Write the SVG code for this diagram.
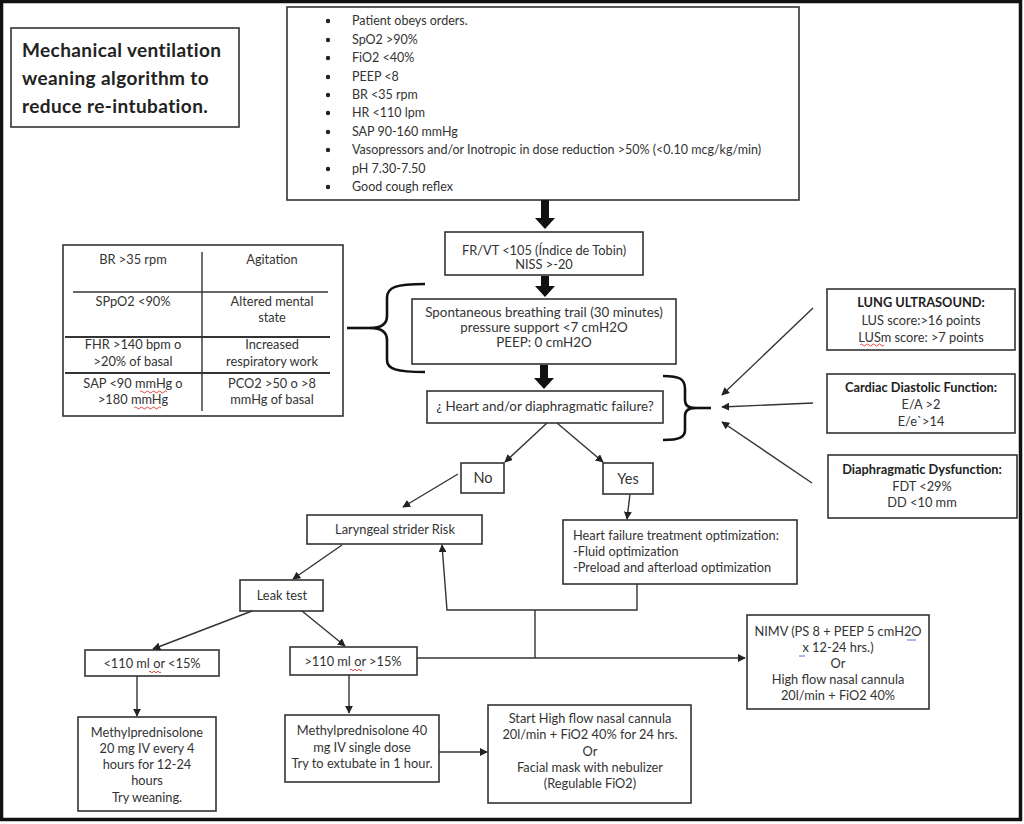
<svg xmlns="http://www.w3.org/2000/svg" width="1024" height="824" viewBox="0 0 1024 824">
<defs>
<marker id="ah" viewBox="0 0 10 10" refX="9" refY="5" markerWidth="8" markerHeight="8" markerUnits="userSpaceOnUse" orient="auto">
<path d="M0,0 L10,5 L0,10 z" fill="#222"/>
</marker>
<style>
.box{fill:#fff;stroke:#333;stroke-width:1.6}
.t{font-family:Lato,"Open Sans","Liberation Sans",sans-serif;font-size:12.8px;fill:#333}
.l{font-size:12.5px}
.m{font-size:13.4px}
.c{text-anchor:middle}
.b{font-weight:bold;fill:#222}
.ttl{font-size:19px;letter-spacing:0.4px}
.ln{fill:none;stroke:#333;stroke-width:1.4}
.ar{fill:none;stroke:#333;stroke-width:1.4;marker-end:url(#ah)}
.brace{fill:none;stroke:#111;stroke-width:2.6}
.sq{fill:none;stroke:#d33;stroke-width:0.9}
.sqb{fill:none;stroke:#36c;stroke-width:0.9}
</style>
</defs>
<rect width="1024" height="824" fill="#fff"/>
<rect x="1.5" y="1.5" width="1019" height="818" fill="none" stroke="#111" stroke-width="3.5"/>

<g id="title">
<rect class="box" x="11" y="28" width="228" height="99"/>
<text class="t b ttl" x="22" y="57">Mechanical ventilation</text>
<text class="t b ttl" x="22" y="85">weaning algorithm to</text>
<text class="t b ttl" x="22" y="113">reduce re-intubation.</text>
</g>

<g id="criteria">
<rect class="box" x="287" y="7" width="512" height="193"/>
<g fill="#222">
<circle cx="328" cy="21" r="2.2"/><circle cx="328" cy="40" r="2.2"/><circle cx="328" cy="58" r="2.2"/><circle cx="328" cy="77" r="2.2"/><circle cx="328" cy="95" r="2.2"/><circle cx="328" cy="113" r="2.2"/><circle cx="328" cy="132" r="2.2"/><circle cx="328" cy="150" r="2.2"/><circle cx="328" cy="169" r="2.2"/><circle cx="328" cy="187" r="2.2"/>
</g>
<text class="t l" x="352" y="25">Patient obeys orders.</text>
<text class="t l" x="352" y="44">SpO2 &gt;90%</text>
<text class="t l" x="352" y="62">FiO2 &lt;40%</text>
<text class="t l" x="352" y="81">PEEP &lt;8</text>
<text class="t l" x="352" y="99">BR &lt;35 rpm</text>
<text class="t l" x="352" y="117">HR &lt;110 lpm</text>
<text class="t l" x="352" y="136">SAP 90-160 mmHg</text>
<text class="t l" x="352" y="154">Vasopressors and/or Inotropic in dose reduction &gt;50% (&lt;0.10 mcg/kg/min)</text>
<text class="t l" x="352" y="173">pH 7.30-7.50</text>
<text class="t l" x="352" y="191">Good cough reflex</text>
</g>

<g id="tobin">
<rect class="box" x="445" y="232" width="198" height="43"/>
<text class="t c" x="544" y="255">FR/VT &lt;105 (Índice de Tobin)</text>
<text class="t c" x="544" y="269">NISS &gt;-20</text>
</g>

<g id="sbt">
<rect class="box" x="412" y="299" width="264" height="65"/>
<text class="t c m" x="544" y="317">Spontaneous breathing trail (30 minutes)</text>
<text class="t c m" x="544" y="332">pressure support &lt;7 cmH2O</text>
<text class="t c m" x="544" y="347">PEEP: 0 cmH2O</text>
</g>

<g id="failure">
<rect class="box" x="427" y="391" width="236" height="32"/>
<text class="t c m" x="545" y="411">¿ Heart and/or diaphragmatic failure?</text>
</g>

<g id="table">
<rect class="box" x="63" y="245" width="280" height="171"/>
<line class="ln" x1="202" y1="252" x2="202" y2="411"/>
<line class="ln" x1="73" y1="292" x2="328" y2="292"/>
<line class="ln" x1="65" y1="337" x2="330" y2="337" style="stroke-width:2"/>
<line class="ln" x1="65" y1="373" x2="330" y2="373" style="stroke-width:2"/>
<text class="t c" x="133" y="264">BR &gt;35 rpm</text>
<text class="t c" x="272" y="264">Agitation</text>
<text class="t c" x="133" y="306">SPpO2 &lt;90%</text>
<text class="t c" x="272" y="306">Altered mental</text>
<text class="t c" x="272" y="322">state</text>
<text class="t c" x="133" y="349">FHR &gt;140 bpm o</text>
<text class="t c" x="133" y="366">&gt;20% of basal</text>
<text class="t c" x="272" y="349">Increased</text>
<text class="t c" x="272" y="366">respiratory work</text>
<text class="t c" x="133" y="388">SAP &lt;90 mmHg o</text>
<text class="t c" x="133" y="404">&gt;180 mmHg</text>
<text class="t c" x="272" y="388">PCO2 &gt;50 o &gt;8</text>
<text class="t c" x="272" y="404">mmHg of basal</text>
<path class="sq" d="M140,392 q1.5,-2 3,0 t3,0 t3,0 t3,0 t3,0 t3,0 t3,0 t3,0 t3,0"/>
<path class="sq" d="M134,408 q1.5,-2 3,0 t3,0 t3,0 t3,0 t3,0 t3,0 t3,0 t3,0 t3,0"/>
</g>

<g id="lung">
<rect class="box" x="827" y="289" width="188" height="61"/>
<text class="t c b" x="921" y="307">LUNG ULTRASOUND:</text>
<text class="t c" x="921" y="325">LUS score:&gt;16 points</text>
<text class="t c" x="921" y="342">LUSm score: &gt;7 points</text>
<path class="sq" d="M860,345 q1.5,-2 3,0 t3,0 t3,0 t3,0 t3,0 t3,0 t3,0 t3,0"/>
</g>

<g id="cardiac">
<rect class="box" x="827" y="374" width="188" height="59"/>
<text class="t c b" x="921" y="392">Cardiac Diastolic Function:</text>
<text class="t c" x="921" y="409">E/A &gt;2</text>
<text class="t c" x="921" y="426">E/e`&gt;14</text>
</g>

<g id="diaphragm">
<rect class="box" x="828" y="455" width="189" height="63"/>
<text class="t c b" x="922" y="474">Diaphragmatic Dysfunction:</text>
<text class="t c" x="922" y="491">FDT &lt;29%</text>
<text class="t c" x="922" y="507">DD &lt;10 mm</text>
</g>

<g id="no">
<rect class="box" x="461" y="463" width="43" height="30"/>
<text class="t c" x="483" y="483" style="font-size:14.5px">No</text>
</g>

<g id="yes">
<rect class="box" x="603" y="463" width="50" height="31"/>
<text class="t c" x="628" y="484" style="font-size:14.5px">Yes</text>
</g>

<g id="laryngeal">
<rect class="box" x="307" y="515" width="175" height="29"/>
<text class="t c" x="395" y="534">Laryngeal strider Risk</text>
</g>

<g id="heartfailure">
<rect class="box" x="563" y="520" width="234" height="64"/>
<text class="t" x="573" y="540">Heart failure treatment optimization:</text>
<text class="t" x="573" y="556">-Fluid optimization</text>
<text class="t" x="573" y="572">-Preload and afterload optimization</text>
</g>

<g id="leak">
<rect class="box" x="240" y="580" width="83" height="31"/>
<text class="t c" x="282" y="600">Leak test</text>
</g>

<g id="low">
<rect class="box" x="85" y="650" width="134" height="26"/>
<text class="t c" x="152" y="668">&lt;110 ml or &lt;15%</text>
<path class="sq" d="M149,672 q1,-1.6 2,0 t2,0 t2,0 t2,0 t2,0 t2,0"/>
</g>

<g id="high">
<rect class="box" x="290" y="647" width="127" height="28"/>
<text class="t c" x="353" y="666">&gt;110 ml or &gt;15%</text>
<path class="sq" d="M350,670 q1,-1.6 2,0 t2,0 t2,0 t2,0 t2,0 t2,0"/>
</g>

<g id="nimv">
<rect class="box" x="747" y="615" width="182" height="94"/>
<text class="t c" x="838" y="636">NIMV (PS 8 + PEEP 5 cmH2O</text>
<text class="t c" x="838" y="652">x 12-24 hrs.)</text>
<text class="t c" x="838" y="668">Or</text>
<text class="t c" x="838" y="684">High flow nasal cannula</text>
<text class="t c" x="838" y="700">20l/min + FiO2 40%</text>
<path class="sqb" d="M907,640 L916,640"/>
<path class="sqb" d="M799,656 L805,656"/>
</g>

<g id="methyl20">
<rect class="box" x="78" y="717" width="138" height="94"/>
<text class="t c" x="147" y="737">Methylprednisolone</text>
<text class="t c" x="147" y="753">20 mg IV every 4</text>
<text class="t c" x="147" y="769">hours for 12-24</text>
<text class="t c" x="147" y="785">hours</text>
<text class="t c" x="147" y="802">Try weaning.</text>
</g>

<g id="methyl40">
<rect class="box" x="285" y="715" width="154" height="67"/>
<text class="t c" x="362" y="735">Methylprednisolone 40</text>
<text class="t c" x="362" y="752">mg IV single dose</text>
<text class="t c" x="362" y="768">Try to extubate in 1 hour.</text>
</g>

<g id="hfnc">
<rect class="box" x="488" y="705" width="203" height="98"/>
<text class="t c" x="590" y="723">Start High flow nasal cannula</text>
<text class="t c" x="590" y="739">20l/min + FiO2 40% for 24 hrs.</text>
<text class="t c" x="590" y="756">Or</text>
<text class="t c" x="590" y="772">Facial mask with nebulizer</text>
<text class="t c" x="590" y="788">(Regulable FiO2)</text>
</g>

<g id="connectors">
<path d="M541,200 h8 v18 h6 l-10,11 l-10,-11 h6 z" fill="#111"/>
<path d="M541,276 h8 v10 h6 l-10,11 l-10,-11 h6 z" fill="#111"/>
<path d="M540,365 h8 v13 h6 l-10,11 l-10,-11 h6 z" fill="#111"/>
<path class="brace" d="M425,284 C396,284 387,287 387,298 L387,316 C387,324 381,328 370,328 C381,328 387,332 387,340 L387,360 C387,369 396,372 425,372"/>
<line class="brace" x1="347" y1="328" x2="371" y2="328"/>
<path class="brace" d="M663,376 C680,376 685,379 685,389 L685,400 C685,405 688,408 695,408 C688,408 685,411 685,416 L685,430 C685,437 680,440 663,440"/>
<line class="brace" x1="694" y1="408" x2="711" y2="408"/>
<line class="ar" x1="813" y1="308" x2="722" y2="395"/>
<line class="ar" x1="813" y1="403" x2="722" y2="407"/>
<line class="ar" x1="812" y1="483" x2="722" y2="422"/>
<line class="ar" x1="547" y1="423" x2="505" y2="462"/>
<line class="ar" x1="557" y1="423" x2="603" y2="462"/>
<line class="ar" x1="458" y1="474" x2="403" y2="507"/>
<line class="ar" x1="630" y1="494" x2="627" y2="519"/>
<polyline class="ar" points="637,584 637,610 447,610 442,545"/>
<line class="ln" x1="535" y1="610" x2="535" y2="658"/>
<line class="ar" x1="417" y1="658" x2="745" y2="658"/>
<line class="ar" x1="342" y1="545" x2="293" y2="579"/>
<line class="ar" x1="252" y1="611" x2="153" y2="649"/>
<line class="ar" x1="302" y1="611" x2="345" y2="646"/>
<line class="ar" x1="137" y1="676" x2="137" y2="716"/>
<line class="ar" x1="349" y1="675" x2="349" y2="713"/>
<line class="ar" x1="439" y1="752" x2="487" y2="752"/>
</g>
</svg>
